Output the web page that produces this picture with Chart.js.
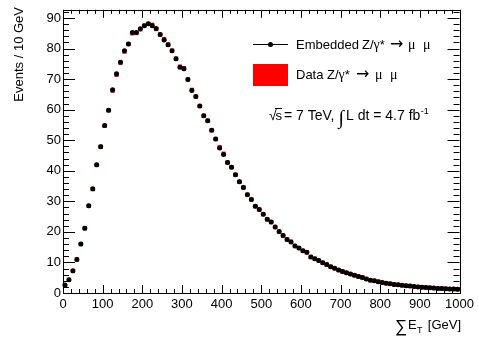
<!DOCTYPE html>
<html lang="en">
<head>
  <meta charset="UTF-8">
  <title>Sum ET embedded vs data</title>
  <script src="https://cdn.jsdelivr.net/npm/chart.js"></script>
  <style>
    html, body { margin: 0; padding: 0; background: #fff; }
    #wrap { position: relative; width: 478px; height: 341px; }
  </style>
</head>
<body>
  <div id="wrap"><canvas id="c" width="478" height="341"></canvas></div>

  <script>
    // bin centres in GeV (10 GeV bins)
    const binCenters = [5, 15, 25, 35, 45, 55, 65, 75, 85, 95,
      105, 115, 125, 135, 145, 155, 165, 175, 185, 195,
      205, 215, 225, 235, 245, 255, 265, 275, 285, 295,
      305, 315, 325, 335, 345, 355, 365, 375, 385, 395,
      405, 415, 425, 435, 445, 455, 465, 475, 485, 495,
      505, 515, 525, 535, 545, 555, 565, 575, 585, 595,
      605, 615, 625, 635, 645, 655, 665, 675, 685, 695,
      705, 715, 725, 735, 745, 755, 765, 775, 785, 795,
      805, 815, 825, 835, 845, 855, 865, 875, 885, 895,
      905, 915, 925, 935, 945, 955, 965, 975, 985, 995];

    // Embedded Z/gamma* -> mu mu (black dots)
    const embedded = [2.6, 4.3, 7.3, 11.0, 16.0, 21.2, 28.6, 34.1, 42.0, 47.9,
      54.8, 59.8, 66.5, 71.8, 75.5, 79.3, 81.5, 85.3, 85.3, 86.5,
      87.5, 88.1, 87.5, 86.6, 84.6, 82.8, 81.3, 79.3, 76.7, 73.9,
      73.4, 69.9, 66.3, 64.3, 61.2, 58.0, 56.4, 53.3, 50.4, 47.5,
      45.3, 42.7, 41.2, 38.7, 36.4, 34.5, 32.2, 30.6, 28.4, 27.3,
      25.8, 24.1, 23.2, 21.6, 20.1, 18.8, 17.5, 16.7, 15.4, 14.7,
      13.8, 13.3, 11.8, 11.2, 10.6, 9.9, 9.3, 8.6, 8.1, 7.5,
      7.0, 6.6, 6.2, 5.8, 5.4, 5.1, 4.6, 4.2, 4.0, 3.7,
      3.4, 3.2, 3.0, 2.8, 2.7, 2.5, 2.4, 2.3, 2.1, 2.0,
      1.9, 1.8, 1.7, 1.6, 1.5, 1.5, 1.4, 1.3, 1.3, 1.2];

    // Data Z/gamma* -> mu mu (red boxes, mostly hidden behind the dots)
    const dataZ = [2.5, 4.3, 7.2, 11.0, 16.0, 21.2, 28.5, 34.0, 41.9, 47.9,
      54.7, 59.8, 66.2, 71.4, 75.4, 79.0, 81.5, 85.0, 85.1, 86.3,
      87.5, 88.1, 87.8, 86.4, 84.6, 83.1, 81.3, 79.3, 76.7, 74.1,
      73.6, 69.9, 66.5, 64.3, 61.2, 58.0, 56.4, 53.3, 50.4, 47.7,
      45.6, 42.7, 41.2, 38.7, 36.4, 34.6, 32.2, 30.6, 28.4, 27.3,
      25.8, 24.1, 23.2, 21.6, 20.1, 18.8, 17.5, 16.8, 15.4, 14.7,
      13.8, 13.3, 11.8, 11.2, 10.6, 9.9, 9.3, 8.6, 8.1, 7.5,
      7.0, 6.6, 6.2, 5.8, 5.4, 5.1, 4.6, 4.2, 4.0, 3.7,
      3.4, 3.2, 3.0, 2.8, 2.7, 2.5, 2.4, 2.3, 2.1, 2.0,
      1.9, 1.8, 1.7, 1.6, 1.5, 1.5, 1.4, 1.3, 1.3, 1.2];

    const xTicks = [0, 100, 200, 300, 400, 500, 600, 700, 800, 900, 1000];
    const yTicks = [0, 10, 20, 30, 40, 50, 60, 70, 80, 90];

    const FONT = "'Liberation Sans', Arial, Helvetica, sans-serif";
    const SERIF = "'Liberation Serif', 'DejaVu Serif', serif";

    function pts(ys) {
      return binCenters.map((x, i) => ({ x: x, y: ys[i] }));
    }

    // "Z/γ* → μ μ" with ROOT-like spacing
    function drawProcess(ctx, x, y, arrowX, mu1X, mu2X) {
      ctx.font = '13px ' + FONT;
      ctx.fillText('Z/', x, y);
      const w = ctx.measureText('Z/').width;
      ctx.font = '14px ' + SERIF;
      ctx.fillText('\u03b3', x + w, y);
      const g = ctx.measureText('\u03b3').width;
      ctx.font = '13px ' + FONT;
      ctx.fillText('*', x + w + g, y);
      ctx.font = '16px DejaVu Sans';
      ctx.fillText('\u2192', arrowX, y);
      ctx.font = '14px ' + SERIF;
      ctx.fillText('\u03bc', mu1X, y);
      ctx.fillText('\u03bc', mu2X, y);
    }

    // ROOT style frame, inward ticks, legend and axis titles
    const rootDeco = {
      id: 'rootDeco',
      afterDraw(chart) {
        const ctx = chart.ctx;
        const a = chart.chartArea;
        const xs = chart.scales.x, ys = chart.scales.y;
        ctx.save();
        ctx.strokeStyle = '#000';
        ctx.lineWidth = 1;
        ctx.strokeRect(Math.round(a.left) + 0.5, Math.round(a.top) + 0.5,
          Math.round(a.right - a.left), Math.round(a.bottom - a.top));

        ctx.beginPath();
        for (let v = 0; v <= 1000; v += 20) {
          const px = Math.round(xs.getPixelForValue(v)) + 0.5;
          const len = v % 100 === 0 ? 8 : 4;
          ctx.moveTo(px, a.bottom); ctx.lineTo(px, a.bottom - len);
          ctx.moveTo(px, a.top); ctx.lineTo(px, a.top + len);
        }
        for (let v = 0; v <= 92; v += 2) {
          const py = Math.round(ys.getPixelForValue(v)) + 0.5;
          const len = v % 10 === 0 ? 12 : 6;
          ctx.moveTo(a.left, py); ctx.lineTo(a.left + len, py);
          ctx.moveTo(a.right, py); ctx.lineTo(a.right - len, py);
        }
        ctx.stroke();

        ctx.fillStyle = '#000';
        ctx.textBaseline = 'alphabetic';

        // y title
        ctx.save();
        ctx.translate(23, 7);
        ctx.rotate(-Math.PI / 2);
        ctx.textAlign = 'right';
        ctx.font = '13px ' + FONT;
        ctx.fillText('Events / 10 GeV', 0, 0);
        ctx.restore();

        // x title: sum E_T [GeV]
        ctx.textAlign = 'left';
        ctx.font = '17px ' + FONT;
        ctx.fillText('\u2211', 395, 332);
        ctx.font = '13px ' + FONT;
        ctx.fillText('E', 408, 329);
        ctx.font = '9px ' + FONT;
        ctx.fillText('T', 417, 333);
        ctx.font = '13px ' + FONT;
        ctx.textAlign = 'right';
        ctx.fillText('[GeV]', 461, 329);

        // legend
        ctx.textAlign = 'left';
        ctx.beginPath();
        ctx.moveTo(253, 44.5); ctx.lineTo(288, 44.5);
        ctx.stroke();
        ctx.beginPath();
        ctx.arc(270.5, 44.5, 2.5, 0, Math.PI * 2);
        ctx.fill();
        ctx.font = '13px ' + FONT;
        ctx.fillText('Embedded', 296, 49);
        drawProcess(ctx, 362, 49, 390, 408, 423);

        ctx.fillStyle = '#ff0000';
        ctx.fillRect(253, 64, 35, 22);
        ctx.fillStyle = '#000';
        ctx.font = '13px ' + FONT;
        ctx.fillText('Data', 296, 79);
        drawProcess(ctx, 327, 79, 356, 375, 390);

        // sqrt(s) = 7 TeV, int L dt = 4.7 fb^-1
        const by = 120;
        ctx.font = '14px ' + FONT;
        ctx.fillText('\u221a', 269, by);
        ctx.font = '13px ' + FONT;
        ctx.fillText('s', 275.5, by);
        const sw = ctx.measureText('s').width;
        ctx.beginPath();
        ctx.moveTo(275, by - 11.5); ctx.lineTo(275.5 + sw, by - 11.5);
        ctx.stroke();
        ctx.font = '14px ' + FONT;
        ctx.fillText('= 7 TeV,', 284, by);
        ctx.font = '20px ' + SERIF;
        ctx.fillText('\u222b', 338.5, by + 4);
        ctx.font = '14px ' + FONT;
        ctx.fillText('L dt = 4.7 fb', 346, by);
        const lw = ctx.measureText('L dt = 4.7 fb').width;
        ctx.font = '9px ' + FONT;
        ctx.fillText('-1', 346 + lw + 0.5, by - 6);

        ctx.restore();
      }
    };

    new Chart(document.getElementById('c'), {
      type: 'scatter',
      data: {
        datasets: [{
          label: 'Embedded Z/\u03b3* \u2192 \u03bc \u03bc',
          data: pts(embedded),
          backgroundColor: '#000',
          borderColor: '#000',
          pointStyle: 'circle',
          pointRadius: 2.5,
          pointBorderWidth: 0,
          clip: false
        }, {
          label: 'Data Z/\u03b3* \u2192 \u03bc \u03bc',
          data: pts(dataZ),
          backgroundColor: '#ff0000',
          borderColor: '#ff0000',
          pointStyle: 'rect',
          pointRadius: 3,
          pointBorderWidth: 0,
          clip: false
        }]
      },
      options: {
        responsive: false,
        animation: false,
        events: [],
        layout: { padding: { top: 7, right: 15, left: 0, bottom: 0 } },
        plugins: {
          legend: { display: false },
          tooltip: { enabled: false }
        },
        scales: {
          x: {
            type: 'linear',
            min: 0,
            max: 1000,
            grid: { display: false, drawTicks: false },
            border: { display: false },
            afterFit(scale) { scale.height = 48; },
            afterBuildTicks(scale) { scale.ticks = xTicks.map(v => ({ value: v })); },
            ticks: {
              color: '#000',
              padding: 4,
              maxRotation: 0,
              autoSkip: false,
              font: { family: FONT, size: 13 },
              callback: v => String(v)
            }
          },
          y: {
            type: 'linear',
            min: 0,
            max: 92.7,
            grid: { display: false, drawTicks: false },
            border: { display: false },
            afterFit(scale) { scale.width = 63; },
            afterBuildTicks(scale) { scale.ticks = yTicks.map(v => ({ value: v })); },
            ticks: {
              color: '#000',
              padding: 2,
              autoSkip: false,
              font: { family: FONT, size: 13 },
              callback: v => String(v)
            }
          }
        }
      },
      plugins: [rootDeco]
    });
  </script>
</body>
</html>
